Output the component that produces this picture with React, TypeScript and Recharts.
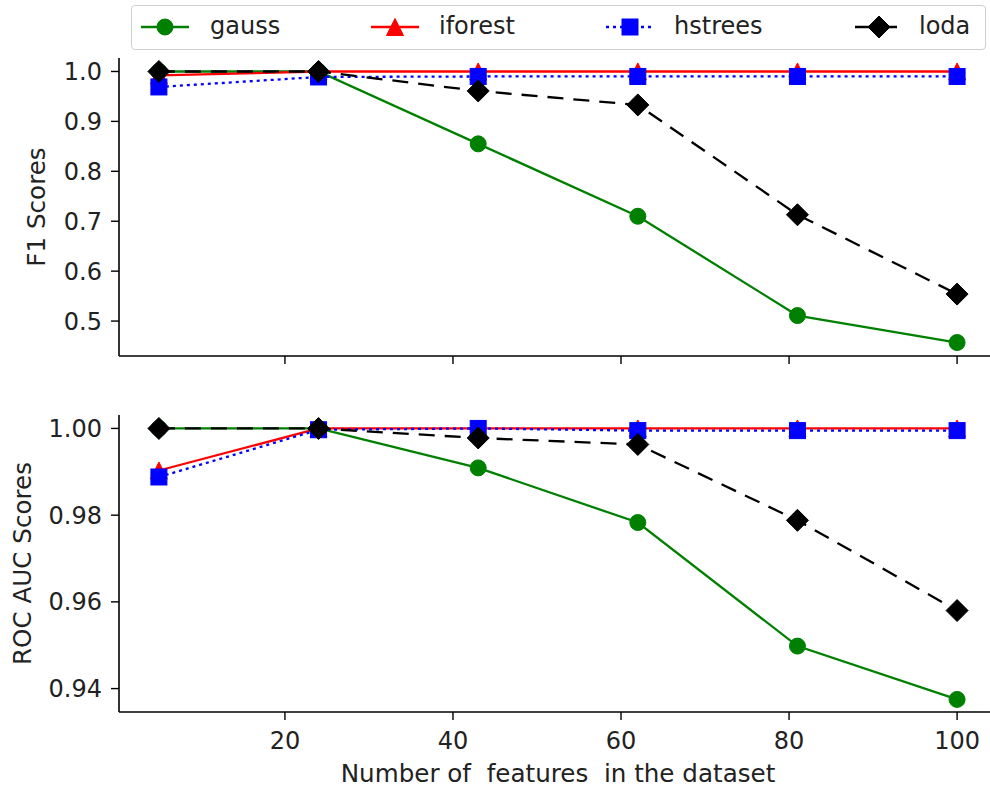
import React from 'react';
import { LineChart, Line, XAxis, YAxis } from 'recharts';

const features = [5, 24, 43, 62, 81, 100];
const seriesNames = ['gauss', 'iforest', 'hstrees', 'loda'];

const f1Gauss = [1.0, 1.0, 0.855, 0.71, 0.511, 0.457];
const f1Iforest = [0.992, 1.0, 1.0, 1.0, 1.0, 1.0];
const f1Hstrees = [0.969, 0.989, 0.99, 0.99, 0.99, 0.99];
const f1Loda = [1.0, 1.0, 0.961, 0.933, 0.713, 0.554];

const aucGauss = [1.0, 1.0, 0.9909, 0.9783, 0.9498, 0.9375];
const aucIforest = [0.9903, 1.0, 1.0, 1.0, 1.0, 1.0];
const aucHstrees = [0.9888, 0.9997, 1.0, 0.9995, 0.9995, 0.9995];
const aucLoda = [1.0, 1.0, 0.9978, 0.9963, 0.9788, 0.958];

const xTicks = [20, 40, 60, 80, 100];
const f1Ticks = [0.5, 0.6, 0.7, 0.8, 0.9, 1.0];
const aucTicks = [0.94, 0.96, 0.98, 1.0];

const f1Data = features.map((f, i) => ({
  x: f, gauss: f1Gauss[i], iforest: f1Iforest[i], hstrees: f1Hstrees[i], loda: f1Loda[i],
}));
const aucData = features.map((f, i) => ({
  x: f, gauss: aucGauss[i], iforest: aucIforest[i], hstrees: aucHstrees[i], loda: aucLoda[i],
}));

const FONT = '"DejaVu Sans", sans-serif';
const FS = 24;
const LFS = 24.6;
const TEXT = '#222';

const COLORS: Record<string, string> = { gauss: '#008000', iforest: '#ff0000', hstrees: '#0000ff', loda: '#000000' };
const DASH: Record<string, string | undefined> = { gauss: undefined, iforest: undefined, hstrees: '3 4', loda: '16 10' };

function MarkerShape({ kind, cx, cy }: { kind: string; cx: number; cy: number }) {
  const c = COLORS[kind];
  if (kind === 'gauss') return <circle cx={cx} cy={cy} r={8} fill={c} stroke={c} strokeWidth={1} />;
  if (kind === 'iforest') {
    const h = 8.5;
    return <polygon points={`${cx},${cy - h} ${cx - h},${cy + h} ${cx + h},${cy + h}`} fill={c} stroke={c} strokeWidth={1} />;
  }
  if (kind === 'hstrees') return <rect x={cx - 8} y={cy - 8} width={16} height={16} fill={c} stroke={c} strokeWidth={1} />;
  const d = 11;
  return <polygon points={`${cx},${cy - d} ${cx + d},${cy} ${cx},${cy + d} ${cx - d},${cy}`} fill={c} stroke={c} strokeWidth={1} />;
}

const makeDot = (kind: string) => (props: any) => {
  const { cx, cy, index } = props;
  if (cx == null || cy == null) return <g key={`d-${kind}-${index}`} />;
  return <MarkerShape key={`d-${kind}-${index}`} kind={kind} cx={cx} cy={cy} />;
};

function YLabel(props: any) {
  const { viewBox, text, cxPos } = props;
  const cy = viewBox.y + viewBox.height / 2;
  return (
    <text x={cxPos} y={cy} transform={`rotate(-90, ${cxPos}, ${cy})`} textAnchor="middle" dominantBaseline="central"
      fontFamily={FONT} fontSize={LFS} fill={TEXT}>{text}</text>
  );
}

function XLabel(props: any) {
  const { viewBox, text } = props;
  const cx = viewBox.x + viewBox.width / 2;
  const cy = viewBox.y + 61;
  return (
    <text x={cx} y={cy} textAnchor="middle" dominantBaseline="central" fontFamily={FONT} fontSize={LFS} fill={TEXT}
      style={{ whiteSpace: 'pre' }}>{text}</text>
  );
}

const tickStyle = { fontFamily: FONT, fontSize: FS, fill: TEXT };
const axisLine = { stroke: '#000', strokeWidth: 1.6 };
const tickLine = { stroke: '#000', strokeWidth: 1.4 };

function Panel({ data, ticks, domain, fmt, ylabel, ylabelX, height, showX }: any) {
  return (
    <LineChart width={1010} height={height} data={data} margin={{ top: 58, right: 13, left: 0, bottom: 0 }}>
      <XAxis dataKey="x" type="number" domain={[0.25, 104.75]} ticks={xTicks} allowDataOverflow
        height={showX ? 75 : 44} tickSize={8} tickMargin={12} axisLine={axisLine} tickLine={tickLine}
        tick={tickStyle} tickFormatter={(v: number) => (showX ? String(v) : '')}
        label={showX ? <XLabel text={'Number of  features  in the dataset'} /> : undefined} />
      <XAxis xAxisId="top" orientation="top" type="number" domain={[0.25, 104.75]} height={0}
        tick={false} tickLine={false} axisLine={axisLine} />
      <YAxis type="number" domain={domain} ticks={ticks} allowDataOverflow width={119} tickSize={8} tickMargin={9}
        axisLine={axisLine} tickLine={tickLine} tick={tickStyle} tickFormatter={fmt}
        label={<YLabel text={ylabel} cxPos={ylabelX} />} />
      {seriesNames.map((k) => (
        <Line key={k} dataKey={k} type="linear" stroke={COLORS[k]} strokeWidth={2.3} strokeDasharray={DASH[k]}
          dot={makeDot(k)} activeDot={false} isAnimationActive={false} />
      ))}
    </LineChart>
  );
}

const legendItems = [
  { k: 'gauss', center: 164, textLeft: 209 },
  { k: 'iforest', center: 394, textLeft: 438 },
  { k: 'hstrees', center: 629, textLeft: 673 },
  { k: 'loda', center: 878, textLeft: 918 },
];

function LegendBox() {
  return (
    <div style={{ position: 'absolute', left: 131, top: 5, width: 853, height: 43, border: '1px solid #d0d0d0',
      borderRadius: 4, background: '#fff' }}>
      {legendItems.map((it) => (
        <React.Fragment key={it.k}>
          <svg style={{ position: 'absolute', left: it.center - 131 - 26, top: 3 }} width={52} height={36}>
            <line x1={2} y1={18} x2={50} y2={18} stroke={COLORS[it.k]} strokeWidth={2.3} strokeDasharray={DASH[it.k]} />
            <MarkerShape kind={it.k} cx={26} cy={18} />
          </svg>
          <span style={{ position: 'absolute', left: it.textLeft - 131, top: 5, fontFamily: FONT, fontSize: FS,
            color: TEXT, lineHeight: '30px', whiteSpace: 'pre' }}>{it.k}</span>
        </React.Fragment>
      ))}
    </div>
  );
}

export default function App() {
  return (
    <div style={{ position: 'absolute', left: 0, top: 0, width: 990, height: 787, overflow: 'hidden', background: '#fff' }}>
      <div style={{ position: 'absolute', left: 0, top: 0 }}>
        <Panel data={f1Data} ticks={f1Ticks} domain={[0.43, 1.027]} fmt={(v: number) => v.toFixed(1)}
          ylabel="F1 Scores" ylabelX={36} height={400} showX={false} />
      </div>
      <div style={{ position: 'absolute', left: 0, top: 357 }}>
        <Panel data={aucData} ticks={aucTicks} domain={[0.9346, 1.0031]} fmt={(v: number) => v.toFixed(2)}
          ylabel="ROC AUC Scores" ylabelX={22} height={430} showX={true} />
      </div>
      <LegendBox />
    </div>
  );
}
